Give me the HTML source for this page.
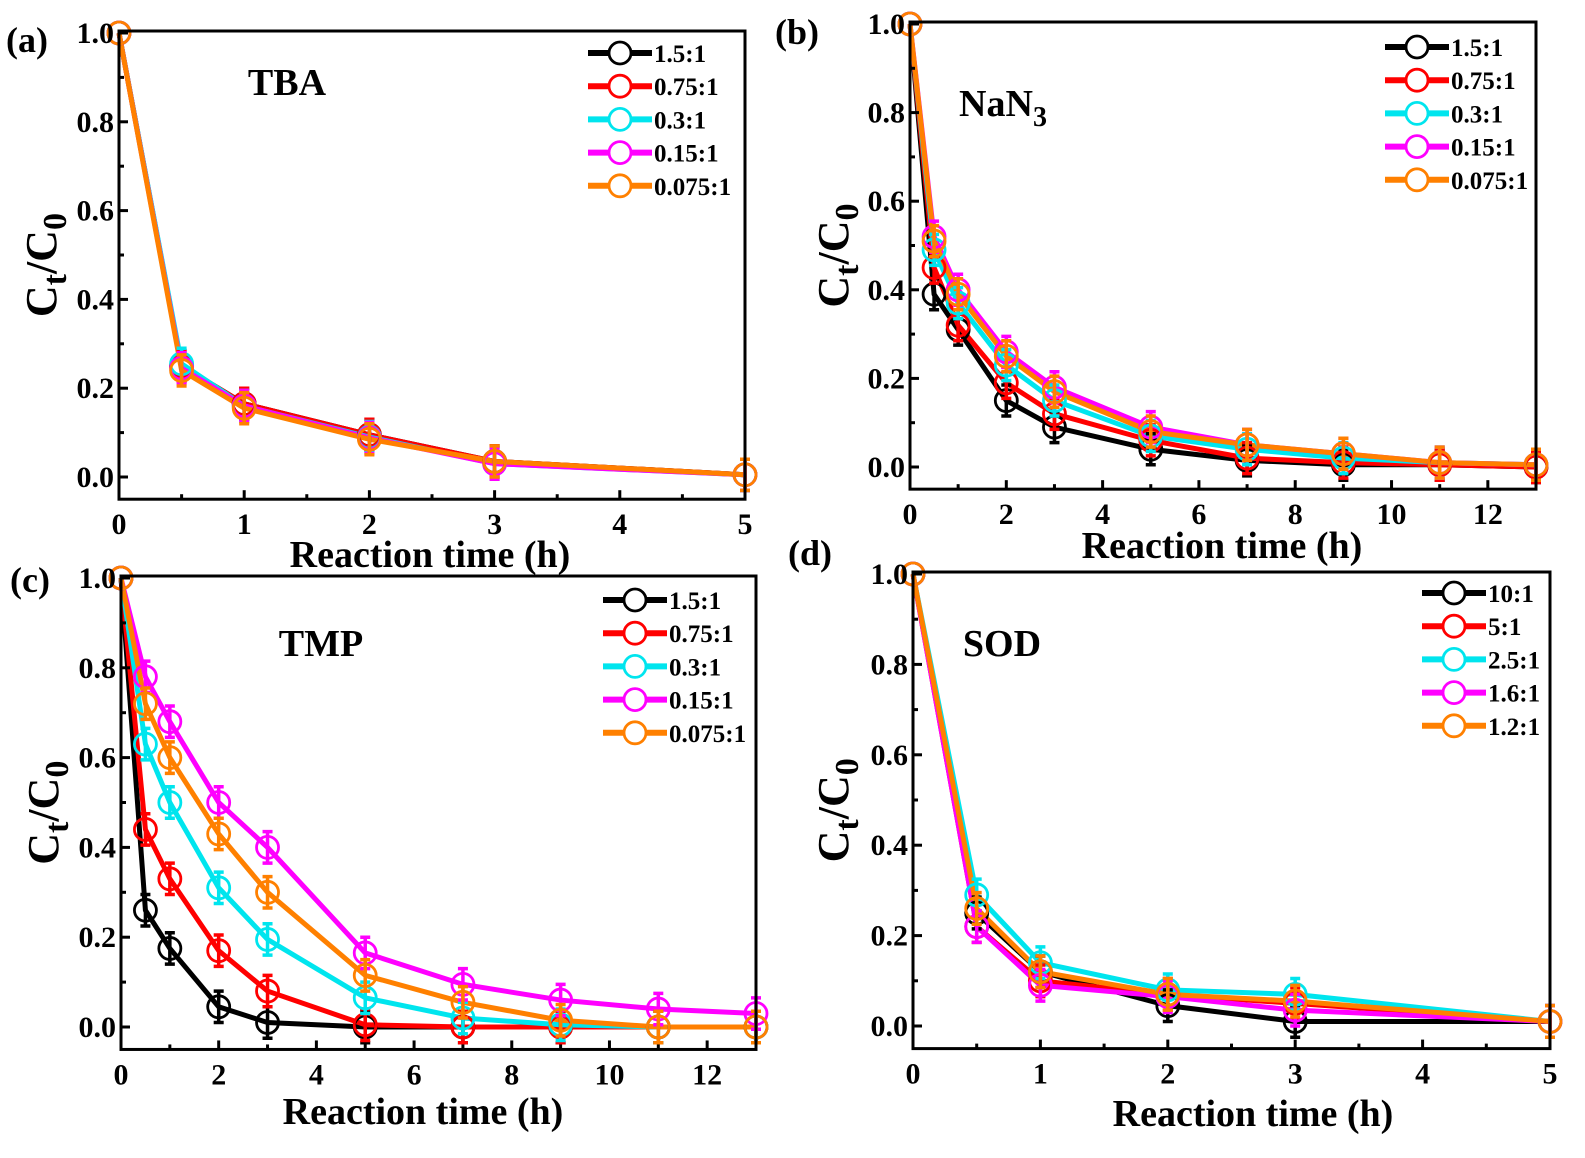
<!DOCTYPE html>
<html><head><meta charset="utf-8"><style>
html,body{margin:0;padding:0;background:#fff;}
svg{display:block;font-family:"Liberation Serif",serif;font-weight:bold;}
</style></head><body>
<svg id="fig" width="1585" height="1158" viewBox="0 0 1585 1158" xmlns="http://www.w3.org/2000/svg"></svg>
<script>
const colors = ["#000000","#ff0000","#00e5ee","#ff00ff","#ff8000"];
const xShort = [0,0.5,1,2,3,5];
const xLong = [0,0.5,1,2,3,5,7,9,11,13];
const namesA = ["1.5:1","0.75:1","0.3:1","0.15:1","0.075:1"];
const namesD = ["10:1","5:1","2.5:1","1.6:1","1.2:1"];
const dataA = [
 [1,0.25,0.165,0.095,0.035,0.005],
 [1,0.25,0.165,0.095,0.035,0.005],
 [1,0.255,0.16,0.09,0.03,0.005],
 [1,0.245,0.16,0.088,0.03,0.005],
 [1,0.24,0.155,0.085,0.035,0.005]];
const dataB = [
 [1,0.39,0.31,0.15,0.09,0.04,0.015,0.005,0.005,0],
 [1,0.45,0.32,0.19,0.12,0.06,0.02,0.01,0.005,0],
 [1,0.49,0.37,0.23,0.15,0.07,0.04,0.02,0.01,0.005],
 [1,0.52,0.40,0.26,0.18,0.09,0.05,0.03,0.01,0.005],
 [1,0.51,0.39,0.25,0.17,0.08,0.05,0.03,0.01,0.005]];
const dataC = [
 [1,0.26,0.175,0.045,0.01,0,0,0,0,0],
 [1,0.44,0.33,0.17,0.08,0.005,0,0,0,0],
 [1,0.63,0.50,0.31,0.195,0.065,0.02,0.005,0,0],
 [1,0.78,0.68,0.50,0.40,0.165,0.095,0.06,0.04,0.03],
 [1,0.72,0.60,0.43,0.30,0.115,0.055,0.015,0,0]];
const dataD = [
 [1,0.25,0.12,0.045,0.01,0.01],
 [1,0.22,0.10,0.07,0.05,0.01],
 [1,0.29,0.14,0.08,0.07,0.01],
 [1,0.22,0.09,0.065,0.035,0.01],
 [1,0.26,0.12,0.07,0.055,0.01]];
const yTicks = ["0.0","0.2","0.4","0.6","0.8","1.0"];
const xTicksShort = [0,1,2,3,4,5];
const xTicksLong = [0,2,4,6,8,10,12];

const NS="http://www.w3.org/2000/svg";
const svg=document.getElementById('fig');
function mk(tag,attrs,parent,text){const e=document.createElementNS(NS,tag);for(const k in attrs)e.setAttribute(k,attrs[k]);if(text!==undefined)e.textContent=text;(parent||svg).appendChild(e);return e;}

const panels=[
 {id:"a",L:119,R:745,T:31,y0:477,y1:33,xmax:5,xs:xShort,data:dataA,names:namesA,xt:xTicksShort,minor:0.5,
  lab:[6,52],title:"TBA",tx:287,ty:95,lgx:588,lgy:53,xtitle:[430,567],ytx:56},
 {id:"b",L:910,R:1536,T:22,y0:467,y1:24,xmax:13,xs:xLong,data:dataB,names:namesA,xt:xTicksLong,minor:1,
  lab:[775,44],title:"NaN",sub:"3",tx:1003,ty:116,lgx:1385,lgy:47,xtitle:[1222,558],ytx:848},
 {id:"c",L:121,R:756,T:576,y0:1027,y1:578,xmax:13,xs:xLong,data:dataC,names:namesA,xt:xTicksLong,minor:1,
  lab:[10,592],title:"TMP",tx:321,ty:656,lgx:603,lgy:600,xtitle:[423,1124],ytx:58},
 {id:"d",L:913,R:1550,T:572,y0:1026,y1:574,xmax:5,xs:xShort,data:dataD,names:namesD,xt:xTicksShort,minor:0.5,
  lab:[788,565],title:"SOD",tx:1002,ty:656,lgx:1422,lgy:593,xtitle:[1253,1126],ytx:848}
];

panels.forEach(p=>{
 const g=mk('g',{});
 
 
 const ys=v=>p.y0+(p.y1-p.y0)*v;
 const xs=v=>p.L+(p.R-p.L)*v/p.xmax;
 const B=ys(-0.05);
 p.data.forEach((ser,si)=>{
  const sg=mk('g',{},g);
  
  
  const pts=ser.map((v,i)=>xs(p.xs[i])+','+ys(v)).join(' ');
  const pl=mk('polyline',{points:pts,fill:'none',stroke:colors[si],'stroke-width':5},sg);
  
  
 });
 p.data.forEach((ser,si)=>{
  ser.forEach((v,i)=>{
   const cx=xs(p.xs[i]),cy=ys(v);
   if(i>0){
    const e=0.035;
    mk('path',{d:`M${cx},${ys(v-e)}V${ys(v+e)}M${cx-5},${ys(v-e)}H${cx+5}M${cx-5},${ys(v+e)}H${cx+5}`,stroke:colors[si],'stroke-width':3.5,fill:'none'},g);
   }
   const c=mk('circle',{cx:cx,cy:cy,r:11,fill:'none',stroke:colors[si],'stroke-width':2.8},g);
   
   
  });
 });
 const fr=mk('rect',{x:p.L,y:p.T,width:p.R-p.L,height:B-p.T,fill:'none',stroke:'#000','stroke-width':3},g);
 
 
 for(let k=0;k<=10;k++){const y=ys(k/10);mk('line',{x1:p.L,x2:p.L+(k%2?5:9),y1:y,y2:y,stroke:'#000','stroke-width':3},g);}
 yTicks.forEach((t,i)=>{const tl=mk('text',{x:p.L-5,y:ys(i*0.2)+10,'text-anchor':'end','font-size':30},g,t);
  });
 for(let v=0;v<=p.xmax+1e-9;v+=p.minor){const x=xs(v);const major=p.xt.indexOf(Math.round(v*10)/10)>=0;
  mk('line',{x1:x,x2:x,y1:B,y2:B-(major?9:5),stroke:'#000','stroke-width':3},g);}
 p.xt.forEach(t=>{const tl=mk('text',{x:xs(t),y:B+35,'text-anchor':'middle','font-size':30},g,t);
  });
 const xt=mk('text',{x:p.xtitle[0],y:p.xtitle[1],'text-anchor':'middle','font-size':38},g,'Reaction time (h)');
 
 const ym=(p.T+B)/2;
 const yt=mk('text',{x:0,y:0,transform:`translate(${p.ytx},${ym}) rotate(-90)`,'text-anchor':'middle','font-size':44},g);
 
 mk('tspan',{},yt,'C');mk('tspan',{dy:10,'font-size':34},yt,'t');mk('tspan',{dy:-10},yt,'/C');mk('tspan',{dy:10,'font-size':34},yt,'0');
 const pl=mk('text',{x:p.lab[0],y:p.lab[1],'font-size':36},g,'('+p.id+')');
 
 const ti=mk('text',{x:p.tx,y:p.ty,'text-anchor':'middle','font-size':38},g);
 
 mk('tspan',{},ti,p.title);if(p.sub)mk('tspan',{dy:10,'font-size':28},ti,p.sub);
 p.names.forEach((n,i)=>{
  const lg=mk('g',{},g);
  
  
  const y=p.lgy+i*33.2;
  mk('line',{x1:p.lgx,x2:p.lgx+64,y1:y,y2:y,stroke:colors[i],'stroke-width':6},lg);
  mk('circle',{cx:p.lgx+32,cy:y,r:11,fill:'#fff',stroke:colors[i],'stroke-width':2.8},lg);
  mk('text',{x:p.lgx+66,y:y+9,'font-size':25},lg,n);
 });
});
</script>
</body></html>
